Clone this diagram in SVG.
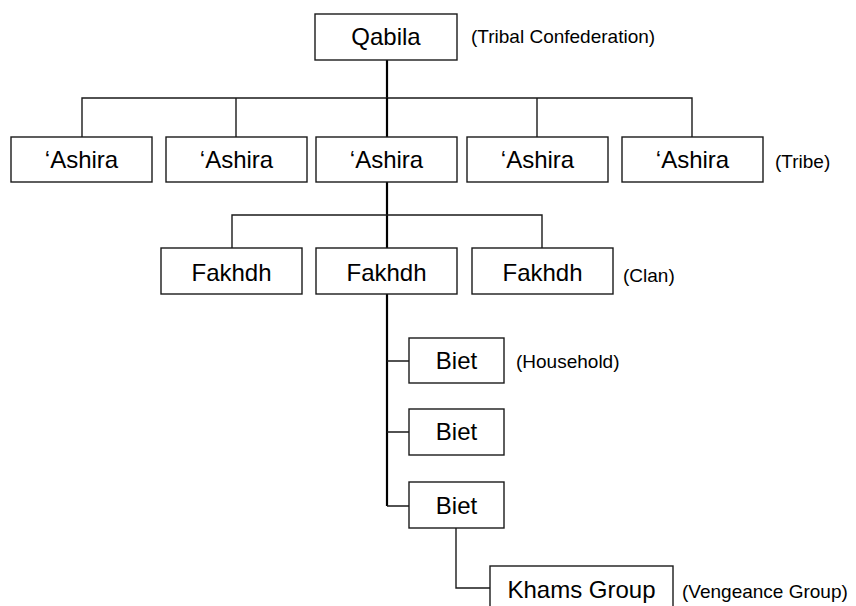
<svg xmlns="http://www.w3.org/2000/svg" width="856" height="606" viewBox="0 0 856 606">
<style>
.box{fill:#fff;stroke:#1a1a1a;stroke-width:1.4}
.lbl{font-family:"Liberation Sans",Arial,sans-serif;font-size:24px;fill:#000;text-anchor:middle}
.note{font-family:"Liberation Sans",Arial,sans-serif;font-size:19px;fill:#000}
.c{fill:none;stroke:#1a1a1a;stroke-width:1.4}
.m{fill:none;stroke:#000;stroke-width:2.2}
</style>
<rect width="856" height="606" fill="#fff"/>
<g id="connectors">
<path class="m" d="M387 60 V98"/>
<path class="c" d="M82 137 V98 H692 V137 M236 98 V137 M537 98 V137"/>
<path class="m" d="M387 98 V137"/>
<path class="m" d="M387 182 V248"/>
<path class="c" d="M232 248 V215 H542 V248"/>
<path class="m" d="M387 294 V506"/>
<path class="c" d="M387 361 H409 M387 432 H409 M387 506 H409"/>
<path class="c" d="M456 528 V588 H490"/>
</g>
<g id="qabila"><rect class="box" x="315" y="14" width="142" height="46"/><text class="lbl" x="386" y="45">Qabila</text></g>
<text class="note" x="471" y="43">(Tribal Confederation)</text>
<g id="ashira1"><rect class="box" x="11" y="137" width="141" height="45"/><text class="lbl" x="81.5" y="168">‘Ashira</text></g>
<g id="ashira2"><rect class="box" x="166" y="137" width="141" height="45"/><text class="lbl" x="236.5" y="168">‘Ashira</text></g>
<g id="ashira3"><rect class="box" x="316" y="137" width="141" height="45"/><text class="lbl" x="386.5" y="168">‘Ashira</text></g>
<g id="ashira4"><rect class="box" x="467" y="137" width="141" height="45"/><text class="lbl" x="537.5" y="168">‘Ashira</text></g>
<g id="ashira5"><rect class="box" x="622" y="137" width="141" height="45"/><text class="lbl" x="692.5" y="168">‘Ashira</text></g>
<text class="note" x="775" y="168">(Tribe)</text>
<g id="fakhdh1"><rect class="box" x="161" y="248" width="141" height="46"/><text class="lbl" x="231.5" y="281">Fakhdh</text></g>
<g id="fakhdh2"><rect class="box" x="316" y="248" width="141" height="46"/><text class="lbl" x="386.5" y="281">Fakhdh</text></g>
<g id="fakhdh3"><rect class="box" x="472" y="248" width="141" height="46"/><text class="lbl" x="542.5" y="281">Fakhdh</text></g>
<text class="note" x="623" y="282">(Clan)</text>
<g id="biet1"><rect class="box" x="409" y="338" width="95" height="45"/><text class="lbl" x="456.5" y="369">Biet</text></g>
<text class="note" x="516" y="368">(Household)</text>
<g id="biet2"><rect class="box" x="409" y="409" width="95" height="46"/><text class="lbl" x="456.5" y="440">Biet</text></g>
<g id="biet3"><rect class="box" x="409" y="482" width="95" height="46"/><text class="lbl" x="456.5" y="514">Biet</text></g>
<g id="khams"><rect class="box" x="490" y="566" width="183" height="46"/><text class="lbl" x="581.5" y="598">Khams Group</text></g>
<text class="note" x="682" y="598">(Vengeance Group)</text>
</svg>
